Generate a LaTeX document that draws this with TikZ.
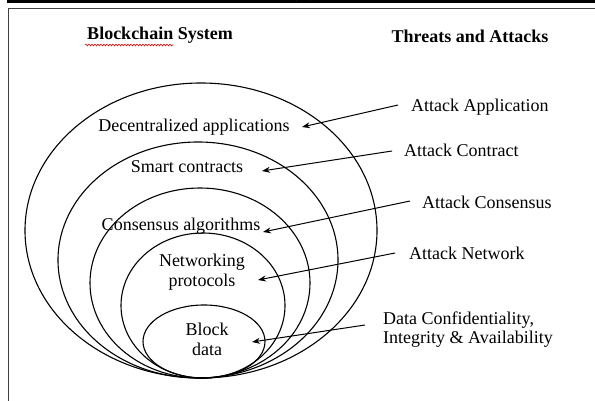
\documentclass[tikz,border=0pt]{standalone}
\usepackage{fontspec}
\setmainfont{Liberation Serif}
\usetikzlibrary{arrows.meta,decorations.pathmorphing}
\begin{document}
\begin{tikzpicture}[x=1pt,y=-1pt,
  layer/.style={draw=black,line width=1.1pt},
  lbl/.style={font=\fontsize{18}{20}\selectfont,inner sep=0pt,align=center},
  head/.style={font=\fontsize{18}{20}\selectfont\bfseries,inner sep=0pt},
  threat/.style={font=\fontsize{18}{19.5}\selectfont,inner sep=0pt,anchor=base west,align=left},
  attack/.style={draw=black,line width=1pt,-{Stealth[length=8pt,width=6pt]}}]
\useasboundingbox (0,0) rectangle (595,401);
% page frame
\fill[black] (7,0) rectangle (595,3.5);
\draw[draw=black!75,line width=1.5pt] (8.5,401) -- (8.5,8.5) -- (595,8.5);
\draw[black!50,line width=0.8pt] (296,0) arc[start angle=200,end angle=340,x radius=8pt,y radius=-4pt];

% nested layers of the blockchain stack
\draw[layer] (201,230.5) ellipse [x radius=176pt, y radius=147.5pt];
\draw[layer] (198,260) ellipse [x radius=140pt, y radius=118pt];
\draw[layer] (200,283) ellipse [x radius=110pt, y radius=95pt];
\draw[layer] (203,305.5) ellipse [x radius=82pt, y radius=72.5pt];
\draw[layer] (204,341.5) ellipse [x radius=61pt, y radius=36.5pt];

% headings
\node[head,anchor=base] (hsys) at (160,40) {Blockchain System};
\node[head,anchor=base] (hthr) at (470,43) {Threats and Attacks};
\draw[red,line width=0.6pt,decoration={snake,amplitude=0.9pt,segment length=3pt},decorate] (85,45) -- (173,45);

% layer labels (two-line labels are anchored on their last line)
\node[lbl,anchor=base] (dapp) at (194,132) {Decentralized applications};
\node[lbl,anchor=base] (smart) at (187,173) {Smart contracts};
\node[lbl,anchor=base] (cons) at (181,230) {Consensus algorithms};
\node[lbl,anchor=base] (net) at (202,286) {Networking\\protocols};
\node[lbl,anchor=base] (blk) at (207,355) {Block\\data};

% threat labels
\node[threat] (aapp) at (411,112) {Attack Application};
\node[threat] (acon) at (404,157) {Attack Contract};
\node[threat] (acns) at (422,208) {Attack Consensus};
\node[threat] (anet) at (409,259) {Attack Network};
\node[threat] (adat) at (383,343.5) {Data Confidentiality,\\Integrity \& Availability};

% arrow ends
\coordinate (s1) at (398,105);  \coordinate (t1) at (302,127);
\coordinate (s2) at (392,151);  \coordinate (t2) at (262,171);
\coordinate (s3) at (410,201);  \coordinate (t3) at (263,232);
\coordinate (s4) at (395,253);  \coordinate (t4) at (258,280);
\coordinate (s5) at (365,325);  \coordinate (t5) at (252,342);
\draw[attack] (s1) -- (t1);
\draw[attack] (s2) -- (t2);
\draw[attack] (s3) -- (t3);
\draw[attack] (s4) -- (t4);
\draw[attack] (s5) -- (t5);
\end{tikzpicture}
\end{document}
